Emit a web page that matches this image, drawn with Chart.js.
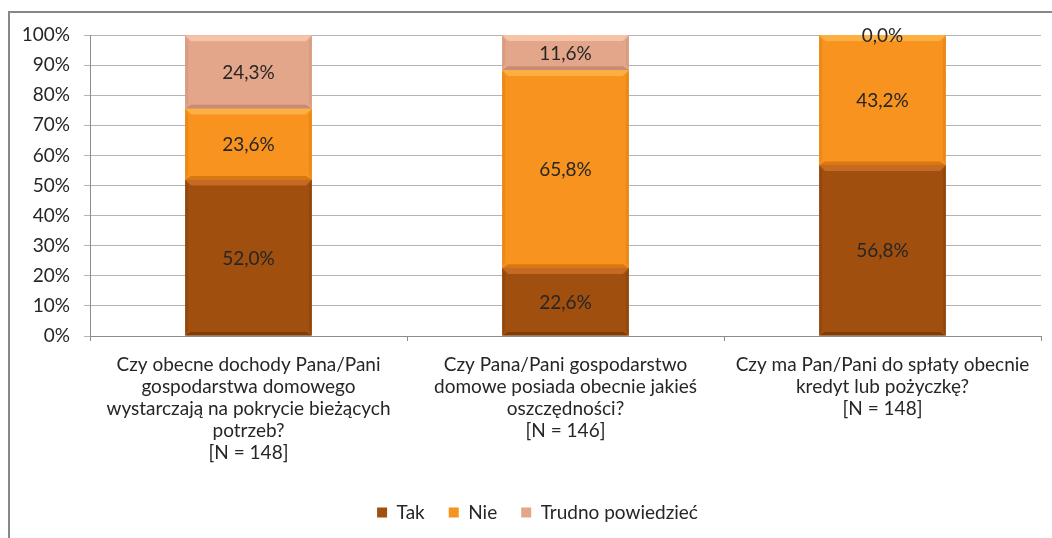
<!DOCTYPE html>
<html>
<head>
<meta charset="utf-8">
<script src="https://cdn.jsdelivr.net/npm/chart.js@4.4.1/dist/chart.umd.min.js"></script>
<style>
  html, body { margin: 0; padding: 0; background: #fff; overflow: hidden; }
  #frame {
    position: absolute; left: 8px; top: 11px;
    width: 1200px; height: 700px;
    border: 2px solid #878787;
  }
  #wrap { position: absolute; left: 0; top: 0; width: 1052px; height: 538px; }
</style>
</head>
<body>
<div id="frame"></div>
<div id="wrap"><canvas id="chart"></canvas></div>
<script>
const CATEGORIES = [
  ["Czy obecne dochody Pana/Pani", "gospodarstwa domowego", "wystarczają na pokrycie bieżących", "potrzeb?", "[N = 148]"],
  ["Czy Pana/Pani gospodarstwo", "domowe posiada obecnie jakieś", "oszczędności?", "[N = 146]"],
  ["Czy ma Pan/Pani do spłaty obecnie", "kredyt lub pożyczkę?", "[N = 148]"]
];

const TAK = [52.0, 22.6, 56.8];
const NIE = [23.6, 65.8, 43.2];
const TRUDNO = [24.3, 11.6, 0.0];

const SERIES_NAMES = ["Tak", "Nie", "Trudno powiedzieć"];
const Y_TICKS = [0, 10, 20, 30, 40, 50, 60, 70, 80, 90, 100];

const COLORS = {
  tak: { main: "#a04f0e", light: "#c46a22", dark: "#7a3a08" },
  nie: { main: "#f7931e", light: "#fcb044", dark: "#d6760e" },
  trudno: { main: "#e3a68a", light: "#f7c3a6", dark: "#c48a70" }
};

const FONT = "Lato, 'Open Sans', sans-serif";
const TEXT = "#262626";

function pct(v) {
  return v.toFixed(1).replace(".", ",") + "%";
}

// bevel look like the office chart
const bevelPlugin = {
  id: "bevel",
  afterDatasetsDraw(chart) {
    const ctx = chart.ctx;
    const keys = ["tak", "nie", "trudno"];
    chart.data.datasets.forEach((ds, i) => {
      const meta = chart.getDatasetMeta(i);
      const c = COLORS[keys[i]];
      meta.data.forEach((bar) => {
        const left = bar.x - bar.width / 2;
        const right = bar.x + bar.width / 2;
        const top = Math.min(bar.y, bar.base);
        const bottom = Math.max(bar.y, bar.base);
        const h = bottom - top;
        if (h < 1) return;
        const b = Math.min(6, h / 2);
        ctx.save();
        // top highlight
        ctx.fillStyle = c.light;
        ctx.beginPath();
        ctx.moveTo(left, top);
        ctx.lineTo(right, top);
        ctx.lineTo(right - b, top + b);
        ctx.lineTo(left + b, top + b);
        ctx.closePath();
        ctx.fill();
        // sides
        ctx.fillStyle = c.dark;
        ctx.globalAlpha = 0.35;
        ctx.beginPath();
        ctx.moveTo(left, top);
        ctx.lineTo(left + b * 0.5, top + b);
        ctx.lineTo(left + b * 0.5, bottom - b);
        ctx.lineTo(left, bottom);
        ctx.closePath();
        ctx.fill();
        ctx.beginPath();
        ctx.moveTo(right, top);
        ctx.lineTo(right - b * 0.5, top + b);
        ctx.lineTo(right - b * 0.5, bottom - b);
        ctx.lineTo(right, bottom);
        ctx.closePath();
        ctx.fill();
        // bottom shade
        ctx.globalAlpha = 0.9;
        ctx.beginPath();
        ctx.moveTo(left, bottom);
        ctx.lineTo(right, bottom);
        ctx.lineTo(right - b, bottom - b * 0.6);
        ctx.lineTo(left + b, bottom - b * 0.6);
        ctx.closePath();
        ctx.fill();
        ctx.restore();
      });
    });
  }
};

const labelPlugin = {
  id: "segLabels",
  afterDatasetsDraw(chart) {
    const ctx = chart.ctx;
    ctx.save();
    ctx.font = "19px " + FONT;
    ctx.fillStyle = TEXT;
    ctx.textAlign = "center";
    ctx.textBaseline = "middle";
    chart.data.datasets.forEach((ds, i) => {
      const meta = chart.getDatasetMeta(i);
      meta.data.forEach((bar, j) => {
        const y = (bar.y + bar.base) / 2;
        ctx.fillText(pct(ds.data[j]), bar.x, y + 1);
      });
    });
    ctx.restore();
  }
};

// legend sits a bit right of the canvas centre in the original
const legendShift = {
  id: "legendShift",
  afterLayout(chart) {
    chart.legend.left += 17;
    chart.legend.right += 17;
  }
};

new Chart(document.getElementById("chart"), {
  type: "bar",
  data: {
    labels: CATEGORIES,
    datasets: [
      { label: SERIES_NAMES[0], data: TAK, backgroundColor: COLORS.tak.main },
      { label: SERIES_NAMES[1], data: NIE, backgroundColor: COLORS.nie.main },
      { label: SERIES_NAMES[2], data: TRUDNO, backgroundColor: COLORS.trudno.main }
    ]
  },
  options: {
    responsive: true,
    maintainAspectRatio: false,
    animation: false,
    devicePixelRatio: 1,
    layout: { padding: { top: 35, right: 11, left: 0, bottom: 6 } },
    datasets: { bar: { barPercentage: 0.4, categoryPercentage: 1 } },
    plugins: {
      legend: {
        position: "bottom",
        labels: {
          boxWidth: 10,
          boxHeight: 10,
          padding: 24,
          color: TEXT,
          font: { family: FONT, size: 19 }
        }
      },
      tooltip: { enabled: false }
    },
    scales: {
      x: {
        stacked: true,
        grid: { drawOnChartArea: false, tickLength: 5, color: "#8c8c8c", offset: true },
        border: { color: "#8c8c8c" },
        ticks: {
          color: TEXT,
          autoSkip: false,
          maxRotation: 0,
          minRotation: 0,
          padding: 13,
          font: { family: FONT, size: 19, lineHeight: 1.16 }
        },
        afterFit: (scale) => { scale.height = 143; }
      },
      y: {
        stacked: true,
        min: 0,
        max: 100,
        afterBuildTicks: (scale) => { scale.ticks = Y_TICKS.map((v) => ({ value: v })); },
        grid: { color: "#b4b4b4", tickLength: 6 },
        border: { color: "#8c8c8c" },
        ticks: {
          color: TEXT,
          padding: 14,
          font: { family: FONT, size: 19 },
          callback: (v) => v + "%"
        },
        afterFit: (scale) => { scale.width = 90; }
      }
    }
  },
  plugins: [bevelPlugin, labelPlugin, legendShift]
});
</script>
</body>
</html>
